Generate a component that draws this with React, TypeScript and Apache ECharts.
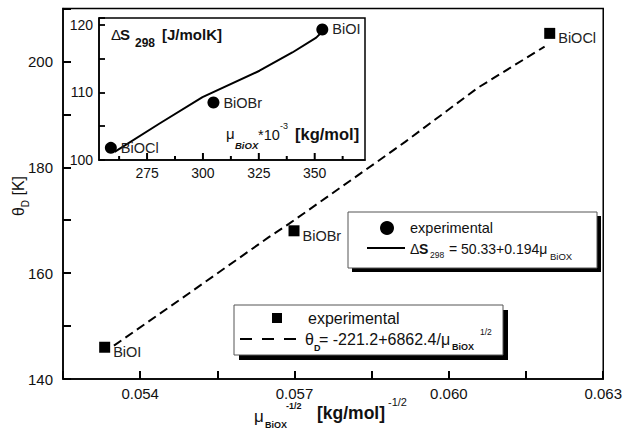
import React, { useEffect, useRef } from "react";
import * as echarts from "echarts";

// Main chart: theta_D vs mu^-1/2
const mainNames = ["BiOI", "BiOBr", "BiOCl"];
const mainX = [0.05331, 0.05699, 0.06196];
const mainY = [146.0, 168.0, 205.3];
const fitX = [0.05349, 0.05476, 0.0565, 0.05689, 0.05857, 0.05915, 0.06056, 0.06186];
const fitY = [146.3, 154.9, 166.8, 169.3, 180.8, 184.8, 195.0, 202.8];
const mainXLabels = [0.054, 0.057, 0.06, 0.063];
const mainYLabels = [140, 160, 180, 200];

// Inset: Delta S298 vs mu
const insetNames = ["BiOCl", "BiOBr", "BiOI"];
const insetX = [258.8, 304.7, 353.4];
const insetY = [101.8, 108.5, 119.3];
const insetFitX = [260.5, 280.6, 299.8, 325.3, 340.0, 350.7, 353.4];
const insetFitY = [101.2, 105.4, 109.3, 113.2, 115.9, 118.1, 119.0];
const insetXLabels = [275, 300, 325, 350];
const insetXMinor = [262.5, 287.5, 312.5, 337.5, 362.5];
const insetYLabels = [100, 110, 120];

const MAIN_X_RANGE = [0.0525, 0.063];
const MAIN_Y_RANGE = [140, 210];
const INSET_X_RANGE = [253.5, 372.5];
const INSET_Y_RANGE = [100, 121];

const FONT = "'Liberation Sans', Arial, sans-serif";
const INK = "#111";

function txt(x: number, y: number, text: string, fontSize: number, extra: any = {}) {
  return {
    type: "text",
    x,
    y,
    z: 100,
    style: {
      text,
      fontSize,
      fontFamily: FONT,
      fill: INK,
      align: "left",
      verticalAlign: "middle",
      ...extra,
    },
  };
}

export default function App() {
  const ref = useRef<HTMLDivElement>(null);
  useEffect(() => {
    if (!ref.current) return;
    const chart = echarts.init(ref.current, null, { renderer: "svg" });
    const axLine = { show: true, lineStyle: { color: "#000", width: 1.5 } };
    const noAx = { show: false };
    const graphics: any[] = [
      {
        type: "text", x: 18, y: 196, rotation: Math.PI / 2, z: 100,
        style: {
          text: "{n|θ}{s|D}{n| [K]}",
          align: "center", verticalAlign: "middle", fill: INK,
          rich: {
            n: { fontSize: 16, fontFamily: FONT, lineHeight: 24, fill: INK },
            s: { fontSize: 10, fontFamily: FONT, lineHeight: 10, verticalAlign: "bottom", fill: INK },
          },
        },
      },
      txt(254, 416, "μ", 17),
      txt(265, 425, "BiOX", 9, { fontWeight: "bold" }),
      txt(286, 406, "-1/2", 9, { fontWeight: "bold" }),
      txt(317, 413, "[kg/mol]", 17.5, { fontWeight: "bold" }),
      txt(388, 402, "-1/2", 11),
      txt(111, 34, "Δ", 15),
      txt(120, 34, "S", 15, { fontWeight: "bold" }),
      txt(135, 43, "298", 12, { fontWeight: "bold" }),
      txt(162, 34, "[J/molK]", 15, { fontWeight: "bold" }),
      txt(226, 133, "μ", 15),
      txt(235, 145, "BiOX", 9.5, { fontWeight: "bold", fontStyle: "italic" }),
      txt(258, 135, "*10", 14.5),
      txt(280, 126, "-3", 9),
      txt(295, 134, "[kg/mol]", 16.5, { fontWeight: "bold" }),
      { type: "rect", z: 98, shape: { x: 352, y: 216, width: 249, height: 56 }, style: { fill: "#000" } },
      { type: "rect", z: 99, shape: { x: 348, y: 212, width: 249, height: 56 }, style: { fill: "#fff", stroke: "#555", lineWidth: 1 } },
      { type: "circle", z: 100, shape: { cx: 387, cy: 228, r: 7 }, style: { fill: "#000" } },
      txt(410, 228, "experimental", 14.5),
      { type: "line", z: 100, shape: { x1: 367, y1: 248, x2: 405, y2: 248 }, style: { stroke: "#000", lineWidth: 2 } },
      txt(410, 249, "Δ", 14),
      txt(419, 249, "S", 14, { fontWeight: "bold" }),
      txt(430, 255, "298", 8.5),
      txt(449, 249, "= 50.33+0.194μ", 14),
      txt(550, 256, "BiOX", 9.5),
      { type: "rect", z: 98, shape: { x: 239, y: 310, width: 269, height: 50 }, style: { fill: "#000" } },
      { type: "rect", z: 99, shape: { x: 234, y: 305, width: 269, height: 50 }, style: { fill: "#fff", stroke: "#555", lineWidth: 1 } },
      { type: "rect", z: 100, shape: { x: 272, y: 313, width: 10, height: 10 }, style: { fill: "#000" } },
      txt(308, 318, "experimental", 16),
      { type: "line", z: 100, shape: { x1: 240, y1: 339, x2: 297, y2: 339 }, style: { stroke: "#000", lineWidth: 2, lineDash: [12, 10] } },
      txt(305, 339, "θ", 16),
      txt(314, 348, "D", 9, { fontWeight: "bold" }),
      txt(319, 339, "= -221.2+6862.4/μ", 16),
      txt(452, 347, "BiOX", 9, { fontWeight: "bold" }),
      txt(480, 332, "1/2", 8.5),
    ];
    const tick = (len: number, w: number) => ({ show: true, inside: true, length: len, lineStyle: { color: "#000", width: w } });
    const option: any = {
      animation: false,
      backgroundColor: "#fff",
      textStyle: { fontFamily: FONT },
      grid: [
        { left: 63, top: 8.5, right: 19, bottom: 51, show: true, borderColor: "#000", borderWidth: 1.5, backgroundColor: "transparent" },
        { left: 99, top: 18, right: 260, bottom: 270, show: true, borderColor: "#000", borderWidth: 1.5, backgroundColor: "#fff" },
      ],
      xAxis: [
        {
          gridIndex: 0, type: "value", min: MAIN_X_RANGE[0], max: MAIN_X_RANGE[1], interval: 0.0015, position: "bottom",
          axisLine: axLine, axisTick: tick(8, 2),
          axisLabel: { customValues: mainXLabels, formatter: (v: number) => v.toFixed(3), fontSize: 15, color: INK, margin: 7 },
          splitLine: noAx,
        },
        {
          gridIndex: 1, type: "value", min: INSET_X_RANGE[0], max: INSET_X_RANGE[1], position: "bottom",
          axisLine: axLine, axisTick: noAx,
          axisLabel: { customValues: insetXLabels, fontSize: 14, color: INK, margin: 6 },
          splitLine: noAx,
        },
      ],
      yAxis: [
        {
          gridIndex: 0, type: "value", min: MAIN_Y_RANGE[0], max: MAIN_Y_RANGE[1], interval: 10, position: "left",
          axisLine: axLine, axisTick: tick(8, 2),
          axisLabel: { customValues: mainYLabels, fontSize: 15, color: INK, margin: 10 },
          splitLine: noAx,
        },
        {
          gridIndex: 1, type: "value", min: INSET_Y_RANGE[0], max: INSET_Y_RANGE[1], interval: 5, position: "left",
          axisLine: axLine, axisTick: tick(6, 1.8),
          axisLabel: { customValues: insetYLabels, fontSize: 14, color: INK, margin: 6 },
          splitLine: noAx,
        },
      ],
      series: [
        {
          type: "line", xAxisIndex: 0, yAxisIndex: 0, showSymbol: false, symbol: "none",
          data: fitX.map((x, i) => [x, fitY[i]]),
          lineStyle: { color: "#000", width: 2, type: [9, 5] },
          z: 3,
        },
        {
          type: "scatter", xAxisIndex: 0, yAxisIndex: 0, symbol: "rect", symbolSize: 11,
          itemStyle: { color: "#000", opacity: 1 },
          data: mainX.map((x, i) => ({ name: mainNames[i], value: [x, mainY[i]] })),
          label: { show: true, position: "right", distance: 3, offset: [0, 5], formatter: "{b}", fontSize: 14.5, color: "#222" },
          z: 4,
        },
        {
          type: "line", xAxisIndex: 1, yAxisIndex: 1, showSymbol: false, symbol: "none",
          data: insetFitX.map((x, i) => [x, insetFitY[i]]),
          lineStyle: { color: "#000", width: 2 },
          z: 5,
        },
        {
          type: "scatter", xAxisIndex: 1, yAxisIndex: 1, symbol: "circle", symbolSize: 12,
          itemStyle: { color: "#000", opacity: 1 },
          data: insetX.map((x, i) => ({ name: insetNames[i], value: [x, insetY[i]] })),
          label: { show: true, position: "right", distance: 4, formatter: "{b}", fontSize: 14.5, color: "#222" },
          z: 6,
        },
      ],
      graphic: graphics,
    };
    chart.setOption(option);

    // Inset x ticks (axis starts off-grid of the tick step): placed via the axis scale
    const ticks: any[] = [];
    const addTicks = (values: number[], len: number, lw: number) => {
      values.forEach((v) => {
        const p = chart.convertToPixel({ xAxisIndex: 1, yAxisIndex: 1 }, [v, INSET_Y_RANGE[0]]) as any;
        if (!p || isNaN(p[0]) || isNaN(p[1])) return;
        ticks.push({ type: "line", z: 120, shape: { x1: p[0], y1: p[1], x2: p[0], y2: p[1] - len }, style: { stroke: "#000", lineWidth: lw } });
      });
    };
    addTicks(insetXLabels, 7, 2);
    addTicks(insetXMinor, 4, 2);
    chart.setOption({ graphic: graphics.concat(ticks) });

    return () => chart.dispose();
  }, []);
  return (
    <div
      ref={ref}
      style={{ position: "fixed", left: 0, top: 0, width: 625, height: 430, background: "#fff" }}
    />
  );
}
